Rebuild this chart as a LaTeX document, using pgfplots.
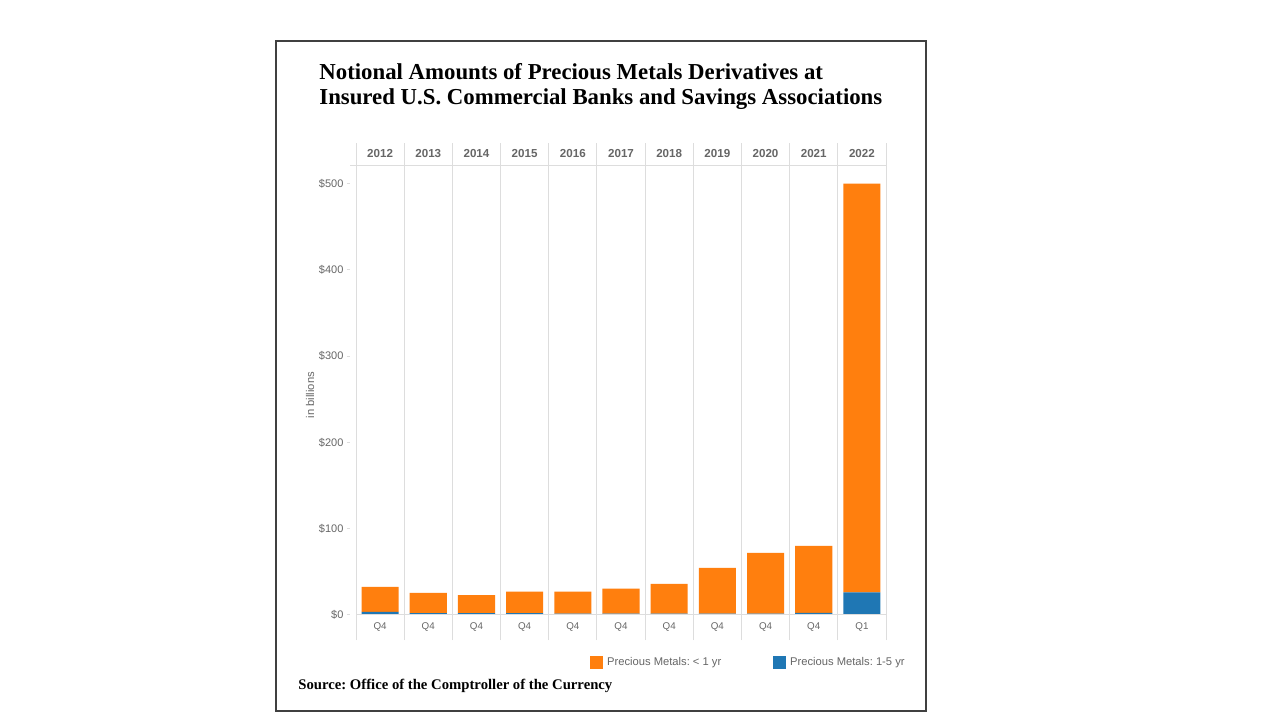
\documentclass[border=0pt]{standalone}
\usepackage{fontspec}
\setmainfont{Liberation Serif}
\newfontfamily\arial{Liberation Sans}
\usepackage{pgfplots}
\pgfplotsset{compat=1.18}
\definecolor{lt1}{HTML}{FF7F0E}
\definecolor{b15}{HTML}{1F77B4}
\definecolor{gridc}{HTML}{DDDDDD}
\definecolor{txtc}{HTML}{666666}
\tikzset{
  hdr/.style={font=\arial\bfseries\fontsize{5.8}{6}\selectfont, text=txtc},
  qlab/.style={font=\arial\fontsize{4.9}{5}\selectfont, text=txtc},
  ylab/.style={anchor=east, font=\arial\fontsize{5.5}{6}\selectfont, text=txtc, inner sep=1.5pt},
}
\frenchspacing
\begin{document}
\frenchspacing
\begin{tikzpicture}[x=0.5pt,y=-0.5pt]
\fill[white] (0,0) rectangle (1280,720);
\draw[black!75, line width=0.6pt] (276,41) rectangle (926,711);
\node[anchor=base west, font=\bfseries\fontsize{11.4}{12}\selectfont, align=left, inner sep=0pt] at (319,79) {Notional Amounts of Precious Metals Derivatives at};
\node[anchor=base west, font=\bfseries\fontsize{11.4}{12}\selectfont, align=left, inner sep=0pt] at (319,104) {Insured U.S. Commercial Banks and Savings Associations};
\node[anchor=base west, font=\bfseries\fontsize{7.35}{8}\selectfont, inner sep=0pt] at (298,689) {Source: Office of the Comptroller of the Currency};
\node[rotate=90, font=\arial\fontsize{5.6}{6}\selectfont, text=txtc] at (310,395) {in billions};
\coordinate (axpos) at (356,640);
\begin{axis}[
  at={(axpos)}, anchor=south west,
  scale only axis, width=265pt, height=248.5pt,
  xmin=-0.5, xmax=10.5, ymin=-29.1, ymax=547,
  ybar stacked, bar width=0.77,
  axis lines=none,
  clip=false,
  ytick=\empty, xtick=\empty,
  legend style={at={(0.43,-0.046)}, anchor=west, draw=none, fill=none,
    legend columns=2, font=\arial\fontsize{5.6}{6}\selectfont, text=txtc,
    /tikz/every even column/.append style={column sep=24pt}},
  legend image code/.code={\fill[#1] (0pt,-3pt) rectangle (6pt,3pt);},
]
% grid
\pgfplotsinvokeforeach{0,...,11}{
  \draw[gridc, line width=0.5pt] (axis cs:#1-0.5,-29.1) -- (axis cs:#1-0.5,547);
}
\draw[gridc, line width=0.5pt] (axis cs:-0.62,521.5) -- (axis cs:10.5,521.5);
\draw[gridc, line width=0.5pt] (axis cs:-0.5,0) -- (axis cs:10.5,0);
% y ticks
\pgfplotsinvokeforeach{0,100,200,300,400,500}{
  \draw[gridc, line width=0.5pt] (axis cs:-0.69,#1) -- (axis cs:-0.62,#1);
  \node[ylab] at (axis cs:-0.69,#1) {\$#1};
}
% headers
\pgfplotsforeachungrouped \i/\yr in {0/2012,1/2013,2/2014,3/2015,4/2016,5/2017,6/2018,7/2019,8/2020,9/2021,10/2022}{
  \edef\tmp{\noexpand\node[hdr] at (axis cs:\i,535) {\yr};}\tmp
}
\pgfplotsforeachungrouped \i/\q in {0/Q4,1/Q4,2/Q4,3/Q4,4/Q4,5/Q4,6/Q4,7/Q4,8/Q4,9/Q4,10/Q1}{
  \edef\tmp{\noexpand\node[qlab] at (axis cs:\i,-14) {\q};}\tmp
}
\addplot[fill=b15, draw=none, forget plot] coordinates {
(0,3.5) (1,2) (2,2) (3,2) (4,1.5) (5,1.5) (6,1.5) (7,1.5) (8,1.5) (9,2.5) (10,26)};
\addplot[fill=lt1, draw=none, forget plot] coordinates {
(0,29) (1,23.5) (2,21) (3,25) (4,25.5) (5,29) (6,34.5) (7,53) (8,70.5) (9,77.5) (10,474)};
\addlegendimage{lt1}
\addlegendentry{Precious Metals: < 1 yr}
\addlegendimage{b15}
\addlegendentry{Precious Metals: 1-5 yr}
\end{axis}
\end{tikzpicture}
\end{document}
